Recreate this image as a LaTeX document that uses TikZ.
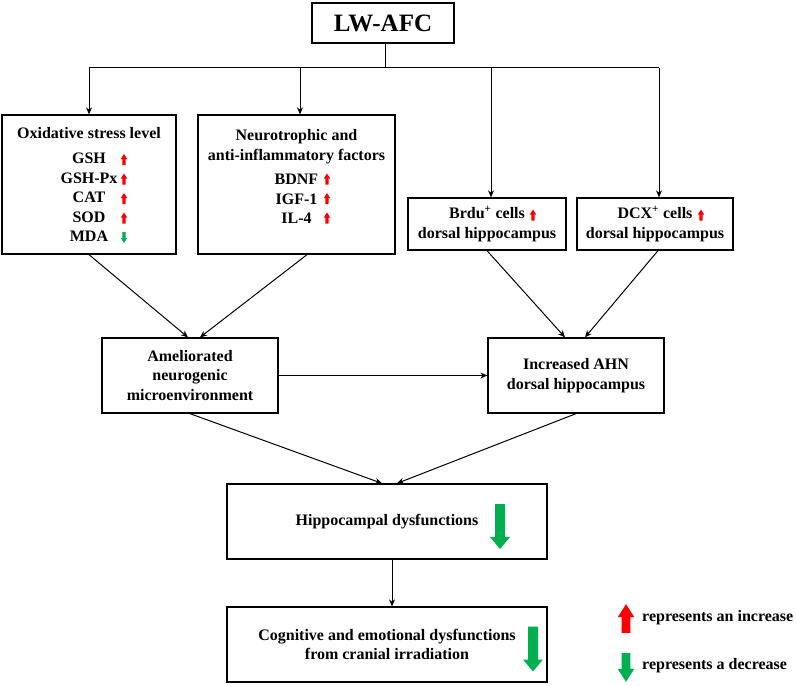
\documentclass[tikz,border=0pt]{standalone}
\usepackage{fontspec}
\setmainfont{Liberation Serif}
\usetikzlibrary{arrows.meta}

\definecolor{upred}{RGB}{255,0,0}
\definecolor{downgreen}{RGB}{0,176,80}

\tikzset{
  box/.style={draw, line width=1.3pt, inner sep=2pt, align=center,
    font=\bfseries\fontsize{16}{19.5}\selectfont},
  link/.style={line width=1pt, -{Stealth[length=7pt,width=6pt]}},
  % small marks beside the items
  inc/.pic={\fill[upred] (-1.7,5.5) -- (-1.7,-0.5) -- (-3.2,-0.5) -- (0,-5.5)
    -- (3.2,-0.5) -- (1.7,-0.5) -- (1.7,5.5) -- cycle;},
  dec/.pic={\fill[downgreen] (-1.7,-5.5) -- (-1.7,0.5) -- (-3.2,0.5) -- (0,5.5)
    -- (3.2,0.5) -- (1.7,0.5) -- (1.7,-5.5) -- cycle;},
  bigdec/.pic={\fill[downgreen] (-5,-22.5) -- (-5,10.5) -- (-10,10.5) -- (0,22.5)
    -- (10,10.5) -- (5,10.5) -- (5,-22.5) -- cycle;}
}

\begin{document}
\begin{tikzpicture}[x=1pt,y=-1pt]
  \useasboundingbox (0,0) rectangle (796,686);

  \node[box, minimum width=142, minimum height=40,
    font=\bfseries\fontsize{25}{30}\selectfont] (afc) at (383,23) {LW-AFC};

  \node[box, minimum width=174, minimum height=139] (oxid) at (89,184.5)
    {Oxidative stress level\\[6pt]GSH\\GSH-Px\\CAT\\SOD\\MDA};
  \node[box, minimum width=197, minimum height=139, text depth=16pt] (neuro) at (296.5,184.5)
    {Neurotrophic and\\anti-inflammatory factors\\[5pt]BDNF\\IGF-1\\IL-4};
  \node[box, minimum width=158, minimum height=52] (brdu) at (487,224)
    {Brdu\textsuperscript{+} cells\\dorsal hippocampus};
  \node[box, minimum width=156, minimum height=52] (dcx) at (655,224)
    {DCX\textsuperscript{+} cells\\dorsal hippocampus};

  \node[box, minimum width=176, minimum height=75] (amel) at (190,375.5)
    {Ameliorated\\neurogenic\\microenvironment};
  \node[box, minimum width=176, minimum height=75] (ahn) at (576,375.5)
    {Increased AHN\\dorsal hippocampus};

  \node[box, minimum width=320, minimum height=75] (hip) at (387,521.5)
    {Hippocampal dysfunctions};
  \node[box, minimum width=320, minimum height=75] (cog) at (387,644.5)
    {Cognitive and emotional dysfunctions\\from cranial irradiation};

  % legend
  \node[anchor=west, inner sep=2pt, font=\bfseries\fontsize{16}{19.5}\selectfont]
    (legup) at (640,618) {represents an increase};
  \node[anchor=west, inner sep=2pt, font=\bfseries\fontsize{16}{19.5}\selectfont]
    (legdown) at (640,666) {represents a decrease};

  % connectors
  \draw[line width=1pt] ([xshift=2pt]afc.south) -- ++(0,24) coordinate (bus);
  \draw[line width=1pt] (oxid.north |- bus) -- ([xshift=4pt]dcx.north |- bus);
  \draw[link] (oxid.north |- bus) -- (oxid.north);
  \draw[link] ([xshift=3.5pt]neuro.north |- bus) -- ([xshift=3.5pt]neuro.north);
  \draw[link] ([xshift=4pt]brdu.north |- bus) -- ([xshift=4pt]brdu.north);
  \draw[link] ([xshift=4pt]dcx.north |- bus) -- ([xshift=4pt]dcx.north);

  \draw[link] (oxid.south) -- ([xshift=-2pt]amel.north);
  \draw[link] ([xshift=10.5pt]neuro.south) -- ([xshift=10pt]amel.north);
  \draw[link] (brdu.south) -- ([xshift=-11pt]ahn.north);
  \draw[link] ([xshift=3pt]dcx.south) -- ([xshift=9pt]ahn.north);
  \draw[link] (amel.east) -- (ahn.west);
  \draw[link] (amel.south) -- ([xshift=-5pt]hip.north);
  \draw[link] (ahn.south) -- ([xshift=10pt]hip.north);
  \draw[link] ([xshift=5pt]hip.south) -- ([xshift=5pt]cog.north);

  % up and down marks
  \pic at (124,159.5) {inc};
  \pic at (124,179) {inc};
  \pic at (124,198.5) {inc};
  \pic at (124,218) {inc};
  \pic at (124,237.5) {dec};
  \pic at (327,179) {inc};
  \pic at (327,198.5) {inc};
  \pic at (327,218) {inc};
  \pic at (533,215) {inc};
  \pic at (701,215) {inc};
  \pic at (500,526.5) {bigdec};
  \pic at (533,649) {bigdec};
  \pic[scale=2.6] at (626,618.5) {inc};
  \pic[scale=2.6] at (626,667.5) {dec};
\end{tikzpicture}
\end{document}
